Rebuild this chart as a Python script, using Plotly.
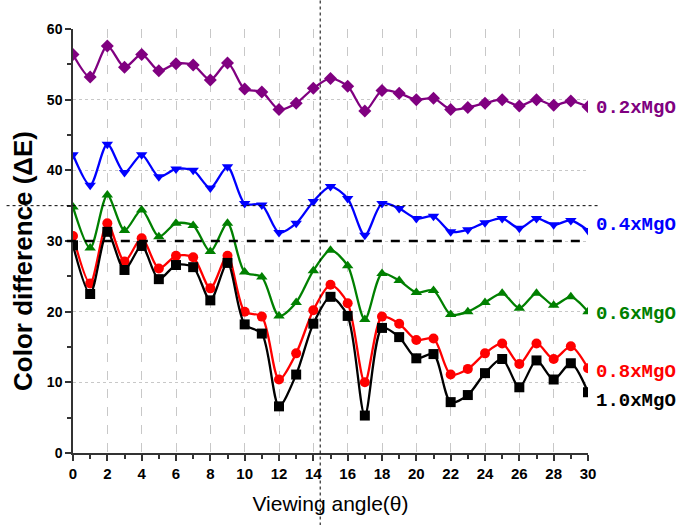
import plotly.graph_objects as go

angles = list(range(0, 31))
mgo_02 = [56.4, 53.2, 57.6, 54.6, 56.4, 54.1, 55.1, 54.9, 52.8, 55.2, 51.5, 51.1, 48.6, 49.5, 51.6,
          53.0, 51.9, 48.4, 51.3, 50.9, 50.0, 50.2, 48.6, 48.9, 49.5, 50.0, 49.1, 50.0, 49.2, 49.8, 49.0]
mgo_04 = [42.2, 37.9, 43.7, 39.7, 42.2, 39.1, 40.2, 40.0, 37.5, 40.5, 35.3, 35.1, 31.2, 32.5, 35.6,
          37.7, 36.0, 30.8, 35.3, 34.6, 33.2, 33.5, 31.3, 31.6, 32.6, 33.2, 31.8, 33.2, 32.3, 32.9, 31.5]
mgo_06 = [34.8, 29.0, 36.5, 31.5, 34.4, 30.6, 32.5, 32.2, 28.5, 32.5, 25.6, 24.9, 19.4, 21.3, 25.8,
          28.7, 26.5, 18.9, 25.4, 24.4, 22.7, 23.0, 19.6, 20.0, 21.3, 22.6, 20.5, 22.6, 20.9, 22.1, 20.0]
mgo_08 = [30.7, 24.0, 32.5, 27.1, 30.4, 26.1, 27.9, 27.7, 23.3, 27.9, 20.0, 19.3, 10.4, 14.1, 20.2,
          23.8, 21.2, 10.0, 19.3, 18.3, 16.0, 16.2, 11.1, 11.9, 14.1, 15.5, 12.6, 15.5, 13.3, 15.1, 12.0]
mgo_10 = [29.4, 22.5, 31.3, 25.9, 29.3, 24.6, 26.6, 26.3, 21.6, 26.9, 18.2, 16.9, 6.6, 11.1, 18.3,
          22.1, 19.4, 5.3, 17.7, 16.4, 13.4, 14.0, 7.2, 8.2, 11.3, 13.3, 9.3, 13.1, 10.4, 12.7, 8.6]

series_names = ["0.2xMgO", "0.4xMgO", "0.6xMgO", "0.8xMgO", "1.0xMgO"]
series_values = [mgo_02, mgo_04, mgo_06, mgo_08, mgo_10]
label_y = [48.8, 32.2, 19.6, 11.4, 7.3]

colors = ["#800080", "#0000FF", "#008000", "#FF0000", "#000000"]
symbols = ["diamond", "triangle-down", "triangle-up", "circle", "square"]

fig = go.Figure()
for name, vals, c, s in zip(series_names, series_values, colors, symbols):
    fig.add_trace(go.Scatter(
        x=angles, y=vals, name=name, mode="lines+markers",
        line=dict(color=c, width=2.3, shape="spline", smoothing=0.8),
        marker=dict(color=c, symbol=s, size=10),
        showlegend=False,
    ))

for name, ly, c in zip(series_names, label_y, colors):
    fig.add_annotation(
        x=30, y=ly, xref="x", yref="y", text=name, showarrow=False,
        xanchor="left", xshift=6,
        font=dict(family="Liberation Mono", size=19, color=c, weight="bold"),
    )

# y-axis title as annotation (positioned like the reference)
fig.add_annotation(
    x=-0.096, y=0.452, xref="paper", yref="paper", text="Color difference (ΔE)",
    textangle=-90, showarrow=False, xanchor="center", yanchor="middle",
    font=dict(size=26, family="Liberation Sans", weight="bold", color="black"),
)

# reference lines
fig.add_shape(type="line", xref="paper", yref="y", x0=-0.129, x1=1.024, y0=35, y1=35,
              line=dict(color="black", width=1, dash="dot"), layer="above")
fig.add_shape(type="line", xref="paper", yref="y", x0=-0.012, x1=1.0, y0=30, y1=30,
              line=dict(color="black", width=2.5, dash="dash"), layer="above")
fig.add_shape(type="line", xref="x", yref="paper", x0=14.4, x1=14.4, y0=-0.171, y1=1.07,
              line=dict(color="black", width=1, dash="dot"), layer="above")

fig.update_layout(
    width=694, height=525,
    margin=dict(l=73, r=106, t=29, b=72),
    paper_bgcolor="white", plot_bgcolor="white",
    font=dict(family="Liberation Sans", color="black"),
    xaxis=dict(
        range=[0, 30], dtick=2, tick0=0,
        showline=True, linecolor="#333333", linewidth=1.5,
        ticks="outside", ticklen=6, tickcolor="#333333", tickwidth=1.5,
        minor=dict(dtick=1, ticks="outside", ticklen=4, tickcolor="#333333", showgrid=False),
        showgrid=True, gridcolor="#c8c8c8", griddash="dash", gridwidth=1,
        zeroline=False,
        tickfont=dict(size=15, family="Liberation Sans", weight="bold"),
        title=dict(text="Viewing angle(θ)", font=dict(size=21, family="Liberation Sans"), standoff=16),
    ),
    yaxis=dict(
        range=[0, 60], dtick=10, tick0=0,
        showline=True, linecolor="#333333", linewidth=1.5,
        ticks="outside", ticklen=6, tickcolor="#333333", tickwidth=1.5,
        minor=dict(dtick=5, ticks="outside", ticklen=4, tickcolor="#333333", showgrid=False),
        showgrid=True, gridcolor="#c8c8c8", griddash="dot", gridwidth=1,
        zeroline=False,
        tickfont=dict(size=14, family="Liberation Sans", weight="bold"),
    ),
)

fig.write_html("out.html")
